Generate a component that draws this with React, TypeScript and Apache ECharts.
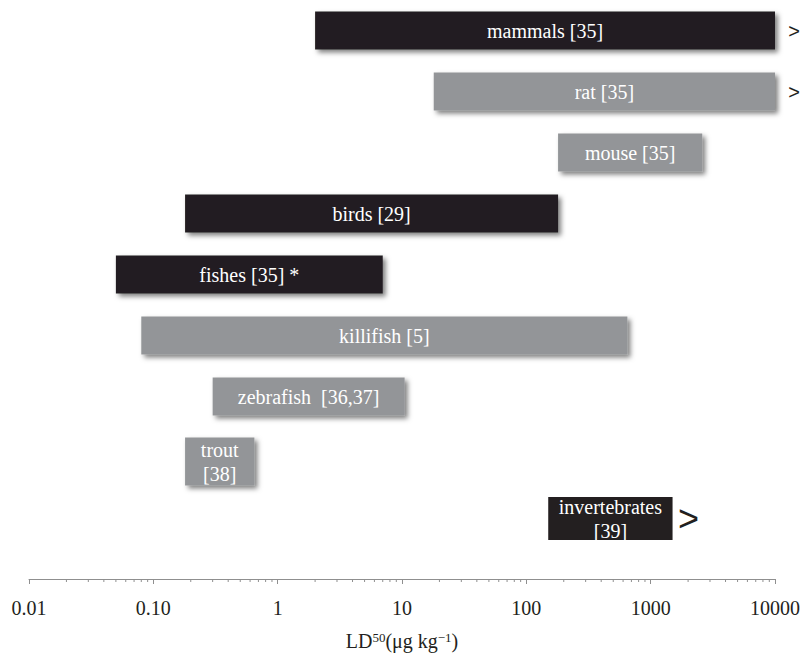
import React, { useEffect, useRef } from "react";
import * as echarts from "echarts";

const categories = [
  "mammals [35]",
  "rat [35]",
  "mouse [35]",
  "birds [29]",
  "fishes [35] *",
  "killifish [5]",
  "zebrafish  [36,37]",
  "trout\n[38]",
  "invertebrates\n[39]",
];
const lowValues = [2, 18, 180, 0.18, 0.05, 0.08, 0.3, 0.18, 150];
const highValues = [10000, 10000, 2600, 180, 7, 650, 10.5, 0.65, 1500];
const groupKind = ["class", "species", "species", "class", "class", "species", "species", "species", "class"];
const openEnded = [true, true, false, false, false, false, false, false, true];
const tickValues = [0.01, 0.1, 1, 10, 100, 1000, 10000];
const tickLabels = ["0.01", "0.10", "1", "10", "100", "1000", "10000"];

const SERIF = "'Liberation Serif', 'Times New Roman', serif";
const colorFor: Record<string, string> = { class: "#231f20", species: "#939598" };
const rowHeight: Record<number, number> = { 7: 48, 8: 43 };
const rowShift: Record<number, number> = { 7: 4 };
const noShadow: Record<number, boolean> = { 8: true };
const AXIS_OFFSET = 30;

export default function App() {
  const ref = useRef<HTMLDivElement>(null);
  useEffect(() => {
    if (!ref.current) return;
    const chart = echarts.init(ref.current, null, { renderer: "svg" });

    const minorTicks: number[] = [];
    for (let d = 0; d < tickValues.length - 1; d++) {
      for (let k = 2; k <= 9; k++) minorTicks.push(tickValues[d] * k);
    }

    const barData = lowValues.map((lo, i) => [lo, highValues[i], i]);

    chart.setOption({
      animation: false,
      grid: { left: 29, right: 31, top: 0, height: 549, outerBoundsMode: "none", containLabel: false },
      xAxis: {
        type: "log",
        logBase: 10,
        min: 0.01,
        max: 10000,
        splitNumber: 6,
        offset: AXIS_OFFSET,
        axisLine: { show: true, lineStyle: { color: "#8f8f8f", width: 1 } },
        axisTick: { show: true, length: 5, lineStyle: { color: "#8f8f8f" } },
        splitLine: { show: false },
        axisLabel: {
          margin: 19,
          fontSize: 20,
          fontFamily: SERIF,
          color: "#231f20",
          formatter: (v: number) => {
            const i = tickValues.findIndex((t) => Math.abs(Math.log10(t) - Math.log10(v)) < 1e-6);
            return i >= 0 ? tickLabels[i] : "";
          },
        },
        name: "LD{s|50}(μg kg{s|−1})",
        nameLocation: "middle",
        nameGap: 52,
        nameTextStyle: {
          fontSize: 20,
          lineHeight: 20,
          fontFamily: SERIF,
          color: "#231f20",
          rich: {
            s: { fontSize: 13, fontFamily: SERIF, color: "#231f20", verticalAlign: "top", lineHeight: 20 },
          },
        },
      },
      yAxis: {
        type: "category",
        data: categories,
        inverse: true,
        show: false,
      },
      series: [
        {
          type: "custom",
          clip: false,
          encode: { x: [0, 1], y: 2 },
          data: barData,
          renderItem: (params: any, api: any) => {
            const idx = api.value(2);
            const p0 = api.coord([api.value(0), idx]);
            const p1 = api.coord([api.value(1), idx]);
            const h = rowHeight[idx] ?? 38;
            const cy = p0[1] + (rowShift[idx] ?? 0);
            const label = categories[idx];
            const children: any[] = [
              {
                type: "rect",
                shape: { x: p0[0], y: cy - h / 2, width: p1[0] - p0[0], height: h },
                style: noShadow[idx]
                  ? { fill: colorFor[groupKind[idx]] }
                  : {
                      fill: colorFor[groupKind[idx]],
                      shadowBlur: 5,
                      shadowOffsetX: 3,
                      shadowOffsetY: 3,
                      shadowColor: "rgba(0,0,0,0.5)",
                    },
              },
              {
                type: "text",
                x: (p0[0] + p1[0]) / 2,
                y: cy,
                style: {
                  text: label,
                  fill: "#ffffff",
                  font: `20px ${SERIF}`,
                  align: "center",
                  verticalAlign: "middle",
                  lineHeight: 24,
                },
              },
            ];
            if (openEnded[idx]) {
              const atMax = api.value(1) >= 10000;
              children.push({
                type: "text",
                x: p1[0] + (atMax ? 19 : 16),
                y: cy,
                style: {
                  text: ">",
                  fill: "#231f20",
                  font: atMax ? "20px 'Liberation Sans', sans-serif" : "36px 'Liberation Sans', sans-serif",
                  align: "center",
                  verticalAlign: "middle",
                },
              });
            }
            return { type: "group", children };
          },
        },
        {
          type: "custom",
          clip: false,
          encode: { x: 0 },
          data: minorTicks.map((v) => [v, 0]),
          renderItem: (params: any, api: any) => {
            const x = api.coord([api.value(0), 0])[0];
            const cs = params.coordSys;
            const y = cs.y + cs.height + AXIS_OFFSET;
            return {
              type: "line",
              shape: { x1: x, y1: y, x2: x, y2: y + 3 },
              style: { stroke: "#8f8f8f", lineWidth: 1 },
            };
          },
        },
      ],
    });
    return () => chart.dispose();
  }, []);
  return (
    <div
      ref={ref}
      style={{ width: 806, height: 653, position: "absolute", left: 0, top: 0, background: "#fff" }}
    />
  );
}
